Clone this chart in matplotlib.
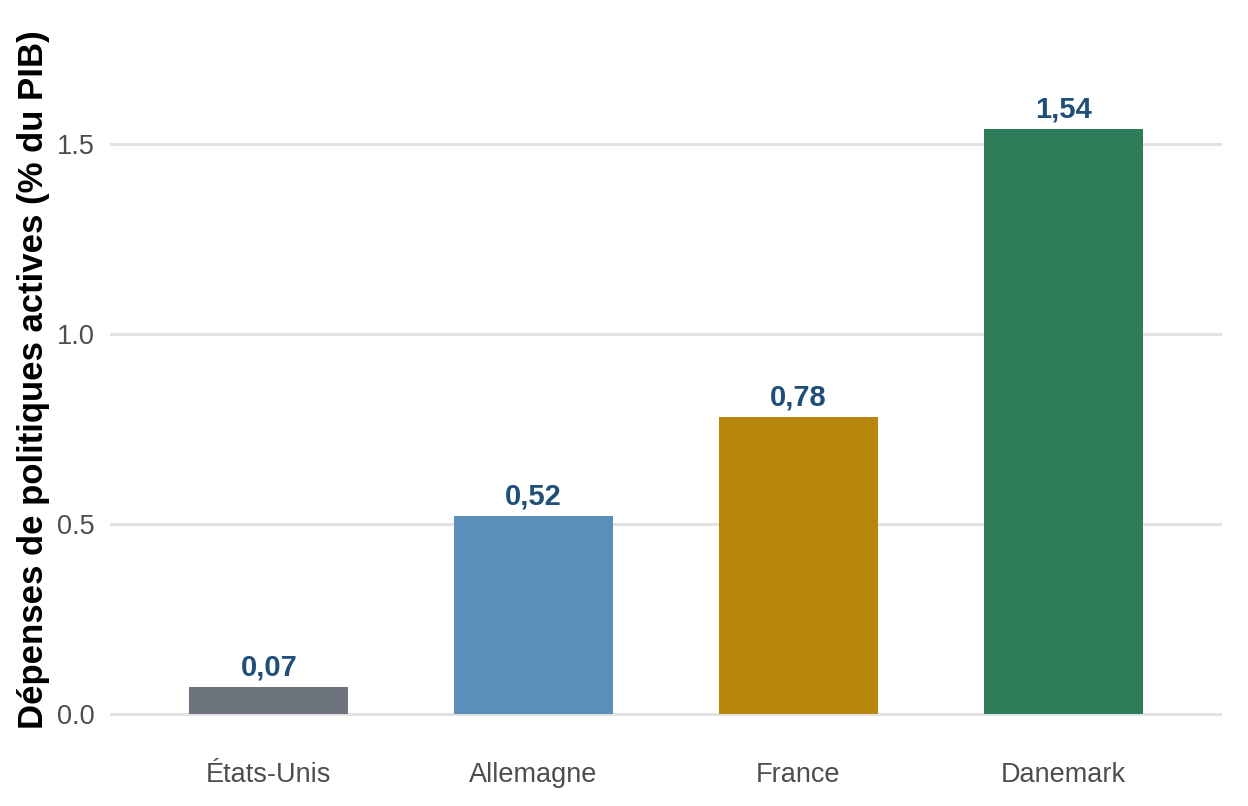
import numpy as np
import matplotlib.pyplot as plt

plt.rcParams['font.family'] = ['Liberation Sans', 'DejaVu Sans']

# données
pays = ['États-Unis', 'Allemagne', 'France', 'Danemark']
depenses = [0.07, 0.52, 0.78, 1.54]
etiquettes = ['0,07', '0,52', '0,78', '1,54']
couleurs = ['#6c737c', '#5b8eba', '#b8860b', '#2e7d5a']

fig = plt.figure(figsize=(12.48, 8.06), dpi=100)
ax = fig.add_axes([110/1248, 63/806, 1112/1248, 726/806])

x = np.arange(len(pays))
ax.bar(x, depenses, width=0.6, color=couleurs, zorder=2)

for xi, v, lab in zip(x, depenses, etiquettes):
    ax.annotate(lab, (xi, v), xytext=(0, 4), textcoords='offset points',
                ha='center', va='bottom', fontsize=21, fontweight='bold',
                color='#1f4e79')

ax.set_xlim(-0.6, 3.6)
ax.set_ylim(-0.077, 1.834)
ax.set_yticks([0.0, 0.5, 1.0, 1.5])
ax.set_yticklabels(['0.0', '0.5', '1.0', '1.5'])
ax.set_xticks(x)
ax.set_xticklabels(pays)

ax.grid(axis='y', color='#e0e0e0', lw=2, zorder=0)
ax.grid(axis='x', visible=False)
for s in ax.spines.values():
    s.set_visible(False)
ax.tick_params(axis='both', length=0, labelsize=19.5, colors='#4d4d4d')
ax.tick_params(axis='x', pad=14)
ax.tick_params(axis='y', pad=11)

ax.set_ylabel('Dépenses de politiques actives (% du PIB)', fontsize=25,
              fontweight='bold', color='black', labelpad=5)

fig.savefig('out.png', dpi=100)
